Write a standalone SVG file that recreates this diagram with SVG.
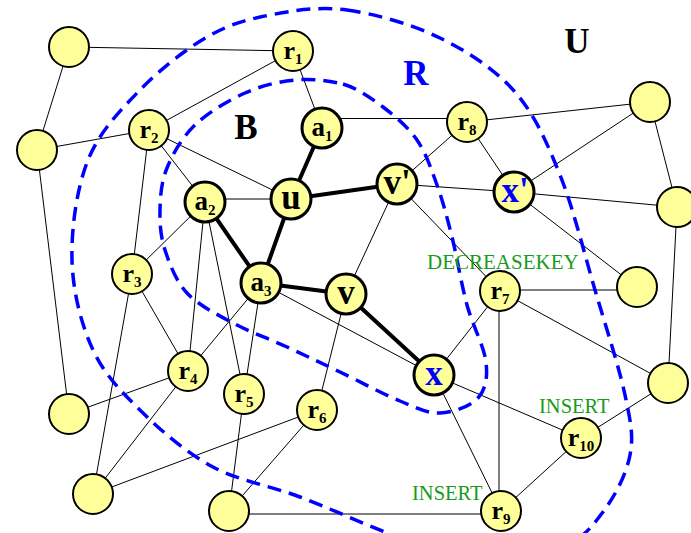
<svg xmlns="http://www.w3.org/2000/svg" width="691" height="533" viewBox="0 0 691 533">
<style>
.e{stroke:#000;stroke-width:1;fill:none}
.t{stroke:#000;stroke-width:4;stroke-linecap:round;fill:none}
.d{fill:none;stroke:#0000ff;stroke-width:3.5;stroke-dasharray:14 8}
.n circle{fill:#ffff99;stroke:#000;stroke-width:2}
.k circle{stroke-width:3}
.lbl{font-family:"Liberation Serif",serif;font-weight:bold;text-anchor:middle;fill:#000}
.blue{fill:#0000ff}
.big{font-family:"Liberation Serif",serif;font-weight:bold;font-size:35px;text-anchor:middle}
.g{font-family:"Liberation Serif",serif;fill:#1a9a1a}
</style>
<rect width="691" height="533" fill="#fff"/>
<g id="connectors">
<line class="e" x1="69" y1="47" x2="293" y2="51"/>
<line class="e" x1="69" y1="47" x2="37" y2="150"/>
<line class="e" x1="37" y1="150" x2="149" y2="130"/>
<line class="e" x1="37" y1="150" x2="69" y2="414"/>
<line class="e" x1="293" y1="51" x2="149" y2="130"/>
<line class="e" x1="293" y1="51" x2="322" y2="128"/>
<line class="e" x1="149" y1="130" x2="132" y2="274"/>
<line class="e" x1="149" y1="130" x2="205" y2="202"/>
<line class="e" x1="149" y1="130" x2="291" y2="199"/>
<line class="e" x1="330" y1="118.5" x2="467" y2="118.5"/>
<line class="e" x1="467" y1="122" x2="650" y2="102"/>
<line class="e" x1="467" y1="122" x2="514" y2="192"/>
<line class="e" x1="467" y1="122" x2="397" y2="184"/>
<line class="e" x1="514" y1="192" x2="650" y2="102"/>
<line class="e" x1="397" y1="184" x2="514" y2="192"/>
<line class="e" x1="514" y1="192" x2="677" y2="207"/>
<line class="e" x1="514" y1="192" x2="637" y2="287"/>
<line class="e" x1="650" y1="102" x2="677" y2="207"/>
<line class="e" x1="677" y1="207" x2="668" y2="383"/>
<line class="e" x1="291" y1="199" x2="205" y2="199"/>
<line class="e" x1="397" y1="184" x2="346" y2="294"/>
<line class="e" x1="397" y1="184" x2="500" y2="291"/>
<line class="e" x1="205" y1="202" x2="132" y2="274"/>
<line class="e" x1="205" y1="202" x2="188" y2="371"/>
<line class="e" x1="205" y1="202" x2="244" y2="394"/>
<line class="e" x1="261" y1="283" x2="244" y2="394"/>
<line class="e" x1="132" y1="274" x2="188" y2="371"/>
<line class="e" x1="132" y1="274" x2="93" y2="494"/>
<line class="e" x1="261" y1="283" x2="188" y2="371"/>
<line class="e" x1="261" y1="283" x2="434" y2="375"/>
<line class="e" x1="346" y1="294" x2="317" y2="410"/>
<line class="e" x1="188" y1="371" x2="69" y2="414"/>
<line class="e" x1="188" y1="371" x2="93" y2="494"/>
<line class="e" x1="317" y1="410" x2="93" y2="494"/>
<line class="e" x1="317" y1="410" x2="229" y2="511"/>
<line class="e" x1="244" y1="394" x2="229" y2="511"/>
<line class="e" x1="229" y1="514" x2="501" y2="514"/>
<line class="e" x1="500" y1="290" x2="637" y2="290"/>
<line class="e" x1="500" y1="291" x2="434" y2="375"/>
<line class="e" x1="499" y1="291" x2="499" y2="511"/>
<line class="e" x1="500" y1="291" x2="668" y2="383"/>
<line class="e" x1="434" y1="375" x2="581" y2="438"/>
<line class="e" x1="434" y1="375" x2="501" y2="511"/>
<line class="e" x1="501" y1="511" x2="581" y2="438"/>
<line class="e" x1="581" y1="438" x2="668" y2="383"/>
<line class="t" x1="322" y1="128" x2="291" y2="199"/>
<line class="t" x1="291" y1="199" x2="397" y2="184"/>
<line class="t" x1="291" y1="199" x2="261" y2="283"/>
<line class="t" x1="205" y1="202" x2="261" y2="283"/>
<line class="t" x1="261" y1="283" x2="346" y2="294"/>
<line class="t" x1="346" y1="294" x2="434" y2="375"/>
</g>
<g id="regions">
<path id="R-region" class="d" d="M347,10 C375.3,13.8 412,24.3 440,38 C468,51.7 495,69.2 515,92 C535,114.8 546.7,142 560,175 C573.3,208 584.2,253.3 595,290 C605.8,326.7 619.2,367.5 625,395 C630.8,422.5 633.7,435.5 630,455 C626.3,474.5 614.7,496.5 603,512 C591.3,527.5 582.2,539.7 560,548 C537.8,556.3 498.3,564.3 470,562 C441.7,559.7 418.3,544.8 390,534 C361.7,523.2 329.5,508.2 300,497 C270.5,485.8 239.2,481 213,467 C186.8,453 163,432.5 143,413 C123,393.5 104.8,375.5 93,350 C81.2,324.5 72.8,291.7 72,260 C71.2,228.3 76.7,188.3 88,160 C99.3,131.7 120.2,110.5 140,90 C159.8,69.5 185.3,49.5 207,37 C228.7,24.5 246.7,19.5 270,15 C293.3,10.5 318.7,6.2 347,10 Z"/>
<path id="B-region" class="d" d="M343,84 C357.7,88.5 370.7,97.7 383,107 C395.3,116.3 408,127 417,140 C426,153 431.2,168.8 437,185 C442.8,201.2 447,217 452,237 C457,257 461.3,284.2 467,305 C472.7,325.8 484.2,346.5 486,362 C487.8,377.5 485.7,389.5 478,398 C470.3,406.5 453,412.5 440,413 C427,413.5 416.7,407.8 400,401 C383.3,394.2 358.8,381 340,372 C321.2,363 304.8,355.2 287,347 C269.2,338.8 249.7,332 233,323 C216.3,314 198.3,305.2 187,293 C175.7,280.8 169.5,263.8 165,250 C160.5,236.2 159.7,223.7 160,210 C160.3,196.3 161.2,182.2 167,168 C172.8,153.8 182,137.5 195,125 C208,112.5 228.3,100.5 245,93 C261.7,85.5 278.7,81.5 295,80 C311.3,78.5 326.7,80.5 343,84 Z"/>
</g>
<g id="region-labels">
<text class="big" x="246" y="139">B</text>
<text class="big blue" x="416" y="85">R</text>
<text class="big" x="577" y="53">U</text>
</g>
<g id="op-labels">
<text class="g" x="427" y="269" font-size="21">DECREASEKEY</text>
<text class="g" x="539" y="413" font-size="20.5">INSERT</text>
<text class="g" x="412" y="500" font-size="20.5">INSERT</text>
</g>
<g id="n1" class="n"><circle cx="69" cy="47" r="20"/></g>
<g id="n2" class="n"><circle cx="37" cy="150" r="20"/></g>
<g id="n3" class="n"><circle cx="650" cy="102" r="20"/></g>
<g id="n4" class="n"><circle cx="677" cy="207" r="20"/></g>
<g id="n5" class="n"><circle cx="637" cy="287" r="20"/></g>
<g id="n6" class="n"><circle cx="69" cy="414" r="20"/></g>
<g id="n7" class="n"><circle cx="93" cy="494" r="20"/></g>
<g id="n8" class="n"><circle cx="229" cy="511" r="20"/></g>
<g id="n9" class="n"><circle cx="668" cy="383" r="20"/></g>
<g id="r1" class="n"><circle cx="293" cy="51" r="20"/><text class="lbl" x="293" y="59" font-size="26">r<tspan font-size="15" dy="5">1</tspan></text></g>
<g id="r2" class="n"><circle cx="149" cy="130" r="20"/><text class="lbl" x="149" y="138" font-size="26">r<tspan font-size="15" dy="5">2</tspan></text></g>
<g id="r3" class="n"><circle cx="132" cy="274" r="20"/><text class="lbl" x="132" y="282" font-size="26">r<tspan font-size="15" dy="5">3</tspan></text></g>
<g id="r4" class="n"><circle cx="188" cy="371" r="20"/><text class="lbl" x="188" y="379" font-size="26">r<tspan font-size="15" dy="5">4</tspan></text></g>
<g id="r5" class="n"><circle cx="244" cy="394" r="20"/><text class="lbl" x="244" y="402" font-size="26">r<tspan font-size="15" dy="5">5</tspan></text></g>
<g id="r6" class="n"><circle cx="317" cy="410" r="20"/><text class="lbl" x="317" y="418" font-size="26">r<tspan font-size="15" dy="5">6</tspan></text></g>
<g id="r7" class="n"><circle cx="500" cy="291" r="20"/><text class="lbl" x="500" y="299" font-size="26">r<tspan font-size="15" dy="5">7</tspan></text></g>
<g id="r8" class="n"><circle cx="467" cy="122" r="20"/><text class="lbl" x="467" y="130" font-size="26">r<tspan font-size="15" dy="5">8</tspan></text></g>
<g id="r9" class="n"><circle cx="501" cy="511" r="20"/><text class="lbl" x="501" y="519" font-size="26">r<tspan font-size="15" dy="5">9</tspan></text></g>
<g id="r10" class="n"><circle cx="581" cy="438" r="20"/><text class="lbl" x="581" y="446" font-size="26">r<tspan font-size="15" dy="5">10</tspan></text></g>
<g id="a1" class="n k"><circle cx="322" cy="128" r="20"/><text class="lbl" x="322" y="136" font-size="27">a<tspan font-size="15" dy="5">1</tspan></text></g>
<g id="a2" class="n k"><circle cx="205" cy="202" r="20"/><text class="lbl" x="205" y="210" font-size="27">a<tspan font-size="15" dy="5">2</tspan></text></g>
<g id="a3" class="n k"><circle cx="261" cy="283" r="20"/><text class="lbl" x="261" y="291" font-size="27">a<tspan font-size="15" dy="5">3</tspan></text></g>
<g id="u" class="n k"><circle cx="291" cy="199" r="20"/><text class="lbl" x="291" y="209" font-size="35">u</text></g>
<g id="v" class="n k"><circle cx="346" cy="294" r="20"/><text class="lbl" x="346" y="304" font-size="35">v</text></g>
<g id="vp" class="n k"><circle cx="397" cy="184" r="20"/><text class="lbl" x="397" y="194" font-size="35">v'</text></g>
<g id="xp" class="n k"><circle cx="514" cy="192" r="20"/><text class="lbl blue" x="515" y="202" font-size="35">x'</text></g>
<g id="x" class="n k"><circle cx="434" cy="375" r="20"/><text class="lbl blue" x="434" y="385" font-size="35">x</text></g>
</svg>
